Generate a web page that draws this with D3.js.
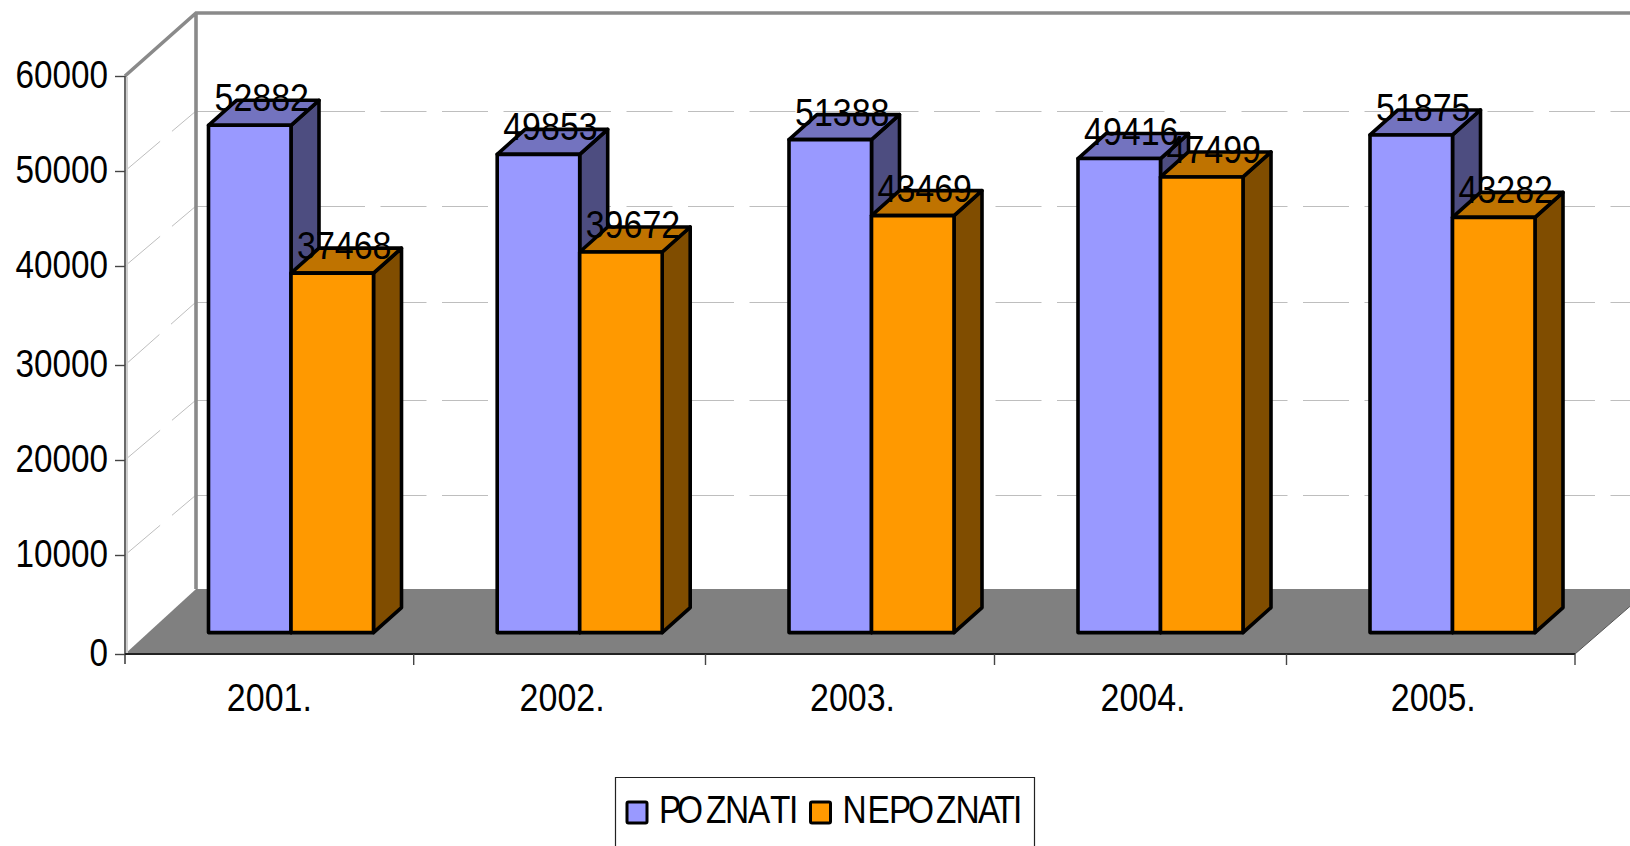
<!DOCTYPE html>
<html><head><meta charset="utf-8">
<style>html,body{margin:0;padding:0;background:#fff;overflow:hidden}svg{display:block}
text{font-family:"Liberation Sans",Arial,sans-serif;fill:#000}</style>
<script src="https://cdn.jsdelivr.net/npm/d3@7/dist/d3.min.js"></script></head>
<body><svg id="c" width="1630" height="846"></svg>
<script>
const categories = ["2001.","2002.","2003.","2004.","2005."];
const seriesNames = ["POZNATI","NEPOZNATI"];
const poznati = [52882,49853,51388,49416,51875];
const nepoznati = [37468,39672,43469,47499,43282];
const yTicks = [0,10000,20000,30000,40000,50000,60000];
const colors = {POZNATI:{front:"#9999FF",top:"#7373BF",side:"#4D4D80"},NEPOZNATI:{front:"#FF9900",top:"#BF7300",side:"#804D00"}};

const svg = d3.select("#c");
const FS = 38, digitW = 18.9, axisDigitW = 18.5;
const slot = d3.scaleLinear().domain([0,1,2,3,4,5]).range([125,413.7,705.5,994.5,1286.5,1575]);
const x = c => slot(categories.indexOf(c));
const series = d3.scaleBand().domain(seriesNames).range([83.5,248.5]);
const yAxisScale = d3.scaleLinear().domain(yTicks).range([654,555,460,365,266,171,76]);
const yBack = d3.scaleLinear().domain(yTicks).range([589,495,400,302,206,111,13]);
const yBar = d3.scaleLinear().domain([0,60000]).range([632.6,57]);
const backX = 196, depthX = 28, depthY = 25;

// floor
svg.append("polygon").attr("fill","#808080")
  .attr("points",[[125,yAxisScale(0)],[backX,yBack(0)],[1650,yBack(0)],[1575,yAxisScale(0)]].join(" "));
svg.append("line").attr("x1",1575).attr("y1",yAxisScale(0)).attr("x2",1650).attr("y2",yBack(0)).attr("stroke","#555").attr("stroke-width",1);

// gridlines
const grid = svg.append("g").attr("fill","none").attr("stroke","#BEBEBE").attr("stroke-width",1).attr("stroke-dasharray","46 15.5");
yTicks.slice(1,-1).forEach(t=>{
  grid.append("line").attr("x1",backX).attr("x2",1630).attr("y1",yBack(t)+.5).attr("y2",yBack(t)+.5);
  grid.append("line").attr("x1",125).attr("y1",yAxisScale(t)).attr("x2",backX).attr("y2",yBack(t));
});

// walls
svg.append("path").attr("fill","none").attr("stroke","#CFCFCF").attr("stroke-width",2)
  .attr("d",`M127 ${yAxisScale(0)}V${yAxisScale(60000)+1}`);
svg.append("path").attr("fill","none").attr("stroke","#8A8A8A").attr("stroke-width",3.6)
  .attr("d",`M125 ${yAxisScale(60000)}L${backX} ${yBack(60000)}H1630M${backX} ${yBack(60000)}V${yBack(0)}`);

// axes
const yG = svg.append("g").attr("transform","translate(125,0)")
  .call(d3.axisLeft(yAxisScale).tickValues(yTicks).tickSize(10).tickPadding(7).tickFormat(d3.format("d")));
yG.selectAll("text").attr("font-size",FS).attr("dy",null)
  .attr("y",11).attr("textLength",d=>String(d).length*axisDigitW).attr("lengthAdjust","spacingAndGlyphs");
yG.selectAll(".tick line").attr("stroke","#444").attr("stroke-width",1.4);
yG.select(".domain").attr("stroke","#444").attr("stroke-width",1.6).attr("d",`M0 ${yAxisScale(60000)}V664`);

const xG = svg.append("g").attr("transform",`translate(0,${yAxisScale(0)})`);
xG.append("line").attr("x1",125).attr("x2",1575).attr("stroke","#222").attr("stroke-width",2);
xG.selectAll(".xt").data(slot.range().slice(1)).join("line")
  .attr("x1",d=>d).attr("x2",d=>d).attr("y1",0).attr("y2",11).attr("stroke","#444").attr("stroke-width",1.4);
xG.selectAll(".xl").data(categories).join("text").attr("font-size",FS).attr("text-anchor","middle")
  .attr("x",(c,i)=>(slot(i)+slot(i+1))/2+(i?2.5:0)).attr("y",56.5).text(c=>c)
  .attr("textLength",85).attr("lengthAdjust","spacingAndGlyphs");

// bars
const rows = categories.flatMap((c,i)=>[
  {c,s:"POZNATI",v:poznati[i]},{c,s:"NEPOZNATI",v:nepoznati[i]}]);
const bars = svg.append("g").attr("stroke","#000").attr("stroke-width",3.6).attr("stroke-linejoin","round");
rows.forEach(d=>{
  const x0 = x(d.c)+series(d.s), x1 = x0+series.bandwidth(), y0 = yBar(d.v), yb = yBar(0), col = colors[d.s];
  const g = bars.append("g");
  g.append("polygon").attr("fill",col.side).attr("points",[[x1,y0],[x1+depthX,y0-depthY],[x1+depthX,yb-depthY],[x1,yb]].join(" "));
  g.append("polygon").attr("fill",col.top).attr("points",[[x0,y0],[x0+depthX,y0-depthY],[x1+depthX,y0-depthY],[x1,y0]].join(" "));
  g.append("rect").attr("fill",col.front).attr("x",x0).attr("y",y0).attr("width",x1-x0).attr("height",yb-y0);
});

// data labels
svg.append("g").selectAll("text").data(rows).join("text").attr("font-size",FS).attr("text-anchor","middle")
  .attr("x",d=>x(d.c)+series(d.s)+series.bandwidth()/2+12).attr("y",d=>yBar(d.v)-14)
  .attr("textLength",5*digitW).attr("lengthAdjust","spacingAndGlyphs").text(d=>d.v);

// legend
const lg = svg.append("g");
lg.append("path").attr("fill","none").attr("stroke","#222").attr("stroke-width",1.2).attr("d","M615.5 846V777.5H1034.5V846");
const squeeze = .88;
const legendItems = [
  {s:"POZNATI",sx:627,at:[659,677,706,725,748,770,789]},
  {s:"NEPOZNATI",sx:810.5,at:[842.5,867.5,889,908,936,955.5,978,994.5,1013]}];
legendItems.forEach(it=>{
  lg.append("rect").attr("x",it.sx).attr("y",802).attr("width",20).attr("height",21).attr("rx",1.5)
    .attr("fill",colors[it.s].front).attr("stroke","#000").attr("stroke-width",3);
  lg.append("text").attr("transform",`scale(${squeeze},1)`).attr("y",823.5).attr("font-size",FS)
    .attr("x",it.at.map(v=>v/squeeze).join(" ")).text(it.s);
});
</script></body></html>
